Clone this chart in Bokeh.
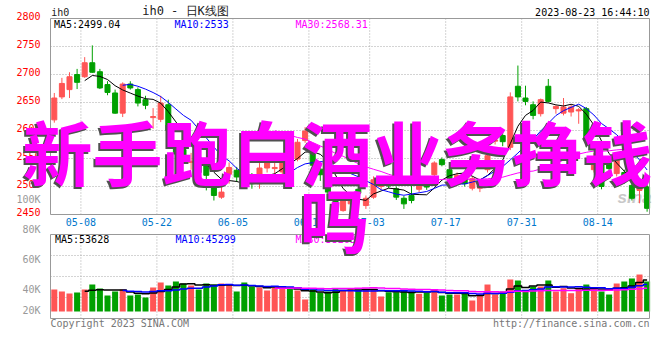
import numpy as np
import pandas as pd
from bokeh.plotting import figure
from bokeh.models import Label, FixedTicker, Range1d, LinearAxis
from bokeh.embed import file_html
from bokeh.resources import INLINE

# ---------------- data ----------------
opens = [2619, 2660, 2673, 2700, 2696, 2721, 2705, 2682, 2667, 2631,
         2683, 2673, 2655, 2623, 2620, 2646, 2570, 2566, 2543, 2540,
         2537, 2502, 2481, 2522, 2529, 2520, 2520, 2505, 2533, 2532,
         2526, 2562, 2549, 2582, 2560, 2531, 2514, 2475, 2457, 2469,
         2495, 2466, 2481, 2500, 2508, 2496, 2479, 2484, 2495, 2506,
         2521, 2548, 2530, 2510, 2517, 2497, 2497, 2530, 2581, 2591,
         2570, 2679, 2658, 2646, 2630, 2679, 2639, 2631, 2633, 2635,
         2639, 2530, 2540, 2543, 2523, 2525, 2502, 2493, 2499]
highs = [2667, 2694, 2704, 2710, 2731, 2752, 2710, 2688, 2673, 2686,
         2688, 2677, 2662, 2640, 2662, 2655, 2580, 2570, 2560, 2548,
         2542, 2511, 2500, 2543, 2535, 2525, 2524, 2544, 2550, 2546,
         2552, 2566, 2585, 2606, 2565, 2540, 2520, 2480, 2484, 2480,
         2498, 2484, 2518, 2512, 2512, 2500, 2483, 2504, 2506, 2510,
         2545, 2552, 2533, 2525, 2520, 2518, 2512, 2565, 2590, 2600,
         2668, 2716, 2680, 2652, 2657, 2692, 2645, 2658, 2646, 2640,
         2642, 2560, 2548, 2552, 2552, 2530, 2505, 2502, 2508]
lows = [2614, 2656, 2658, 2674, 2694, 2703, 2674, 2663, 2630, 2624,
        2673, 2643, 2638, 2603, 2615, 2598, 2550, 2545, 2530, 2520,
        2493, 2475, 2478, 2505, 2508, 2497, 2496, 2496, 2525, 2514,
        2514, 2540, 2545, 2578, 2525, 2510, 2485, 2450, 2455, 2460,
        2478, 2460, 2478, 2495, 2497, 2476, 2460, 2470, 2490, 2494,
        2518, 2536, 2508, 2505, 2500, 2493, 2490, 2525, 2575, 2572,
        2565, 2652, 2645, 2620, 2625, 2650, 2630, 2627, 2625, 2612,
        2570, 2525, 2495, 2520, 2518, 2505, 2475, 2470, 2455]
closes = [2658, 2684, 2696, 2686, 2721, 2704, 2676, 2668, 2631, 2683,
          2676, 2649, 2645, 2625, 2649, 2600, 2558, 2553, 2545, 2525,
          2520, 2484, 2490, 2534, 2517, 2500, 2505, 2533, 2542, 2534,
          2545, 2550, 2579, 2599, 2538, 2521, 2490, 2454, 2479, 2476,
          2488, 2479, 2512, 2505, 2501, 2481, 2469, 2475, 2502, 2499,
          2542, 2539, 2514, 2520, 2505, 2514, 2505, 2555, 2583, 2580,
          2660, 2660, 2652, 2627, 2655, 2652, 2643, 2642, 2642, 2637,
          2582, 2545, 2500, 2532, 2550, 2510, 2479, 2499, 2461]
volumes = [37200, 33800, 30400, 32100, 37200, 45600, 38900, 27000, 33800, 37200,
           27000, 28700, 23700, 40600, 49000, 43900, 50700, 47300, 43900, 37200,
           47300, 45600, 47300, 45600, 33800, 49000, 42300, 40600, 35500, 40600,
           38900, 40600, 35500, 20300, 37200, 32100, 33800, 38900, 35500, 38400,
           35500, 38400, 38400, 25400, 32600, 32600, 36700, 33800, 29900, 31600,
           37200, 27000, 28700, 28700, 30900, 18600, 28700, 45600, 28700, 33800,
           54100, 52400, 33800, 42300, 42300, 52400, 33800, 39400, 30900, 38400,
           45600, 41100, 33800, 28700, 47300, 50700, 55800, 62500, 50700]

date_ticks = [4, 14, 24, 34, 42, 52, 62, 72]
date_labels = ["05-08", "05-22", "06-05", "06-19", "07-03", "07-17", "07-31", "08-14"]
price_ticks = [2450, 2500, 2550, 2600, 2650, 2700, 2750, 2800]
vol_tick_values = [1700, 37200, 87900, 138600, 188800]
vol_tick_labels = ["20K", "40K", "60K", "80K", "100K"]

title_text = "ih0 - 日K线图"
stamp_text = "2023-08-23 16:44:10"
ma_price_texts = ["MA5:2499.04", "MA10:2533", "MA30:2568.31"]
ma_vol_texts = ["MA5:53628", "MA10:45299", "MA30:38263"]
overlay_line1 = "新手跑白酒业务挣钱"
overlay_line2 = "吗"

# ---------------- styles / layout ----------------
RED = "#ff5555"
GREEN = "#00a000"
MONO = "DejaVu Sans Mono"
CJK = "Noto Sans CJK SC"
GRID = "#a8a8a8"
FRAME = "#999999"
MA_COLORS = ["#000000", "#0000ff", "#ff00ff"]
MA_WINDOWS = [5, 10, 30]

W, H = 656, 350                 # canvas = frame (whole picture is one frame)
PX_PER_DAY = 7.6
LEFT_PX, RIGHT_PX = 50, 649     # panel left / right edges
PRICE_TOP_PX, PRICE_BOT_PX = 18, 214
VOL_TOP_PX, VOL_BOT_PX, VOL_ZERO_PX = 234, 318, 311
P_LO, P_HI = 2450, 2800
P_PER_PX = (P_HI - P_LO) / (PRICE_BOT_PX - PRICE_TOP_PX)
V_PER_PX = 1690.0
LABEL_LIFT = 4                   # price labels sit just above their grid line

x_end = (RIGHT_PX - LEFT_PX) / PX_PER_DAY
x_range = Range1d(-LEFT_PX / PX_PER_DAY, (W - LEFT_PX) / PX_PER_DAY)
y_range = Range1d(P_LO - (H - PRICE_BOT_PX) * P_PER_PX, P_HI + PRICE_TOP_PX * P_PER_PX)
vol_range = Range1d(-(H - VOL_ZERO_PX) * V_PER_PX, VOL_ZERO_PX * V_PER_PX)
VLO = -(VOL_BOT_PX - VOL_ZERO_PX) * V_PER_PX
VHI = (VOL_ZERO_PX - VOL_TOP_PX) * V_PER_PX

n = len(closes)
xc = np.arange(n) + 0.5
o = np.array(opens, dtype=float)
c = np.array(closes, dtype=float)
colors = [RED if u else GREEN for u in (c >= o)]
body_top = np.maximum(o, c)
body_bot = np.minimum(o, c)

p = figure(width=W, height=H, x_range=x_range, y_range=y_range,
           x_axis_location=None, y_axis_location=None,
           min_border=0, output_backend="svg", toolbar_location=None)
p.extra_y_ranges = {"vol": vol_range}
p.outline_line_color = None
p.grid.visible = False
p.background_fill_color = "white"
p.border_fill_color = "white"


def style_axis(ax, color):
    ax.major_tick_line_color = None
    ax.minor_tick_line_color = None
    ax.axis_line_color = None
    ax.major_label_text_font = MONO
    ax.major_label_text_font_size = "10px"
    ax.major_label_text_color = color


# price axis
pax = LinearAxis(fixed_location=0,
                 ticker=FixedTicker(ticks=[t + LABEL_LIFT for t in price_ticks]),
                 major_label_overrides={t + LABEL_LIFT: str(t) for t in price_ticks})
style_axis(pax, "#ff0000")
pax.major_label_standoff = 4
p.add_layout(pax, "left")

# volume axis
vax = LinearAxis(fixed_location=0, y_range_name="vol",
                 ticker=FixedTicker(ticks=vol_tick_values),
                 major_label_overrides={t: l for t, l in zip(vol_tick_values, vol_tick_labels)})
style_axis(vax, "#999999")
vax.major_label_standoff = 4
p.add_layout(vax, "left")

# date axis
dax = LinearAxis(fixed_location=P_LO, ticker=FixedTicker(ticks=date_ticks),
                 major_label_overrides={t: l for t, l in zip(date_ticks, date_labels)})
style_axis(dax, "#0077cc")
dax.major_label_standoff = -3
p.add_layout(dax, "below")

# grids (dotted), drawn only inside the two panels
gx = np.array(date_ticks, dtype=float)
p.segment(x0=gx, y0=P_LO, x1=gx, y1=P_HI, line_color=GRID, line_dash="1 2")
gy = np.array(price_ticks[1:-1], dtype=float)
p.segment(x0=0, y0=gy, x1=x_end, y1=gy, line_color=GRID, line_dash="1 2")
p.segment(x0=gx, y0=VLO, x1=gx, y1=VHI, line_color=GRID, line_dash="1 2",
          y_range_name="vol")
gv = np.array([VLO + (VHI - VLO) * k / 4 for k in (1, 2, 3)])
p.segment(x0=0, y0=gv, x1=x_end, y1=gv, line_color=GRID, line_dash="1 2",
          y_range_name="vol")


def txt(x, y, text, color="#000000", size="10px", font=MONO, align="left",
        style="normal", level=None):
    lab = Label(x=x, y=y, x_units="screen", y_units="screen", text=text,
                text_color=color, text_font_size=size, text_font=font,
                text_align=align, text_baseline="middle", text_font_style=style)
    if level:
        lab.level = level
    p.add_layout(lab)


def sy(page_y):
    return H - page_y


# watermark logo under the candles
txt(634, sy(197), "sina", color="#c8c8c8", size="17px", font="Liberation Sans",
    align="center", style="bold italic", level="underlay")

# candles
p.segment(x0=xc, y0=lows, x1=xc, y1=highs, line_color=colors, line_width=1)
p.vbar(x=xc, width=0.66, top=body_top, bottom=body_bot, fill_color=colors,
       line_color=colors, line_width=1)
close_s = pd.Series(closes, dtype=float)
for w, col in zip(MA_WINDOWS, MA_COLORS):
    p.line(xc, close_s.rolling(w).mean().to_numpy(), line_color=col, line_width=1)

# volume bars
p.vbar(x=xc, width=0.79, top=volumes, bottom=0, fill_color=colors, line_color=None,
       y_range_name="vol")
vol_s = pd.Series(volumes, dtype=float)
for w, col in zip(MA_WINDOWS, MA_COLORS):
    p.step(xc, vol_s.rolling(w).mean().to_numpy(), line_color=col, line_width=1.5,
           mode="center", y_range_name="vol")

# panel frames
p.quad(left=0, right=x_end, bottom=P_LO, top=P_HI, fill_color=None,
       line_color=FRAME, line_width=1)
p.quad(left=0, right=x_end, bottom=VLO, top=VHI, fill_color=None,
       line_color=FRAME, line_width=1, y_range_name="vol")

# texts
txt(50.7, sy(12), "ih0", color="#222222")
txt(185, sy(10.5), title_text, color="#222222", size="12px", align="center")
txt(649, sy(11.7), stamp_text, align="right")
for xpos, t, col in zip([53.5, 174, 295], ma_price_texts, MA_COLORS):
    txt(xpos, sy(23.7), t, color=col)
for xpos, t, col in zip([54.5, 175, 295], ma_vol_texts, MA_COLORS):
    txt(xpos, sy(238.7), t, color=col)
txt(50, sy(323), "Copyright 2023 SINA.COM", color="#777777")
txt(649, sy(323), "http://finance.sina.com.cn", color="#777777", align="right")

# overlay headline
SHADOW = "#505050"
BIG = "70px"
for (x0, y0, t) in ((337, 150, overlay_line1), (334, 216.5, overlay_line2)):
    txt(x0 - 2, sy(y0) - 2, t, color=SHADOW, size=BIG, font=CJK, align="center",
        style="bold")
    txt(x0, sy(y0), t, color="#ff00ff", size=BIG, font=CJK, align="center",
        style="bold")

open("out.html", "w").write(file_html(p, INLINE))
